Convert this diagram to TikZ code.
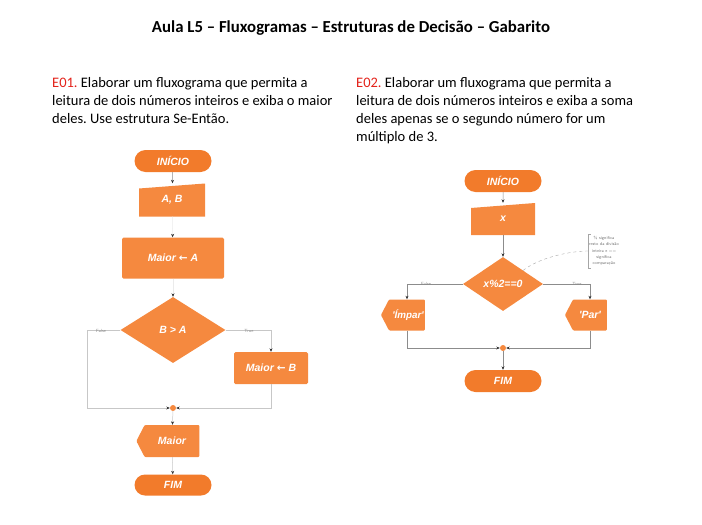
\documentclass[tikz,border=0pt]{standalone}
\usepackage{fontspec}
\setmainfont{Carlito}
\newfontfamily\boxfont{Liberation Sans}
\newfontfamily\arrowfont{DejaVu Sans}
\newcommand{\getsarrow}{{\arrowfont\bfseries ←}}
\frenchspacing
\usetikzlibrary{shapes.geometric,shapes.misc,shapes.symbols,arrows.meta}
\definecolor{flowor}{HTML}{F5893F}
\definecolor{termor}{HTML}{F27B2B}
\definecolor{exred}{HTML}{E3231B}

\tikzset{
  boxtext/.style={text=white, font=\boxfont\bfseries\itshape\fontsize{10.5}{12}\selectfont},
  term/.style={rounded rectangle, fill=termor, boxtext, minimum width=77pt, minimum height=22pt, inner sep=0pt},
  proc/.style={rectangle, fill=flowor, rounded corners=1.5pt, boxtext, inner sep=0pt},
  inbox/.style={rectangle, fill=white, boxtext, inner sep=0pt,
    path picture={\fill[flowor] ([yshift=-5pt]path picture bounding box.north west)
      -- (path picture bounding box.north east) -- (path picture bounding box.south east)
      -- (path picture bounding box.south west) -- cycle;}},
  dec/.style={diamond, fill=flowor, boxtext, inner sep=0pt},
  disp/.style={signal, signal to=west, signal pointer angle=125, fill=flowor, boxtext, inner sep=0pt, rounded corners=1pt},
  mdot/.style={circle, fill=flowor, minimum size=6pt, inner sep=0pt},
  flow/.style={draw=black!45, line width=0.5pt, -{Stealth[length=3.5pt,width=3pt,black!80]}},
  flowl/.style={flow, draw=black!22},
  faint/.style={flow, draw=black!8},
  branch/.style={text=black!45, font=\sffamily\fontsize{4.5}{5}\selectfont},
  txt/.style={anchor=north west, align=left, inner sep=0pt, font=\fontsize{14.5}{18}\selectfont}
}

\begin{document}
\begin{tikzpicture}[x=1pt,y=-1pt]
\useasboundingbox (0,0) rectangle (702,525);

% titulo e enunciados
\node[font=\bfseries\fontsize{16.8}{19}\selectfont] (title) at (351,28) {Aula L5 – Fluxogramas – Estruturas de Decisão – Gabarito};
\node[txt] (q1) at (52,77) {\textcolor{exred}{E01.} Elaborar um fluxograma que permita a\\leitura de dois números inteiros e exiba o maior\\deles. Use estrutura Se-Então.};
\node[txt] (q2) at (356,77) {\textcolor{exred}{E02.} Elaborar um fluxograma que permita a\\leitura de dois números inteiros e exiba a soma\\deles apenas se o segundo número for um\\múltiplo de 3.};

% E01
\node[term] (ini1) at (173,161) {INÍCIO};
\node[inbox, minimum width=66pt, minimum height=33pt] (ab) at (172,200) {A, B};
\node[proc, minimum width=102pt, minimum height=41pt] (ma) at (173,258) {Maior \getsarrow{} A};
\node[dec, minimum width=105pt, minimum height=66pt] (ba) at (173,330) {B > A};
\node[proc, minimum width=74pt, minimum height=32pt] (mb) at (271,368) {Maior \getsarrow{} B};
\node[mdot] (m1) at (173,408) {};
\node[disp, minimum width=63pt, minimum height=32pt] (out1) at (172,441) {Maior};
\node[term, minimum height=21pt] (fim1) at (173,485) {FIM};
\coordinate (fl1) at (87,408);

\draw[flow] (ini1) -- (ab);
\draw[faint] (ab) -- (ma);
\draw[faint] (ma) -- (ba);
\draw[flowl] (ba.west) -| (fl1) -- (m1);
\draw[flowl] (ba.east) -| (mb.north);
\draw[flowl] (mb.south) |- (m1);
\node[branch] at (101,331) {False};
\node[branch] at (249,331) {True};
\draw[flowl] (m1) -- (out1);
\draw[flowl] (out1) -- (fim1);

% E02
\node[term] (ini2) at (503,181) {INÍCIO};
\node[inbox, minimum width=64pt, minimum height=32pt] (x) at (503,219) {x};
\node[dec, minimum width=80pt, minimum height=54pt] (par) at (503,284) {x\%2==0};
\node[disp, minimum width=44pt, minimum height=31pt, font=\boxfont\bfseries\itshape\fontsize{9.8}{12}\selectfont] (imp) at (407,315) {\hspace{2pt}'Ímpar'};
\node[disp, minimum width=42pt, minimum height=31pt] (pr) at (590,315) {'Par'};
\node[mdot] (m2) at (503,348) {};
\node[term] (fim2) at (503,381) {FIM};

\draw[flow] (ini2) -- (x);
\draw[flow] (x) -- (par);
\draw[flow] (par.west) -| (imp.north);
\draw[flow] (par.east) -| (pr.north);
\draw[flow] (imp.south) |- (m2);
\draw[flow] (pr.south) |- (m2);
\draw[flow] (m2) -- (fim2);
\node[branch] at (426,284) {False};
\node[branch] at (577,284) {True};

% nota
\node[text=black!55, font=\sffamily\fontsize{4.3}{6.4}\selectfont, align=center, inner sep=1pt, minimum height=34pt] (nt) at (604,251) {\% significa\\resto da divisão\\inteira e ==\\significa\\comparação};
\draw[black!35, line width=0.4pt] ([xshift=3pt]nt.north west) -- (nt.north west) -- (nt.south west) -- ([xshift=3pt]nt.south west);
\draw[black!35, line width=0.4pt, dashed] (par.north east) .. controls +(18,-14) and +(-15,0) .. (nt.west);
\end{tikzpicture}
\end{document}
